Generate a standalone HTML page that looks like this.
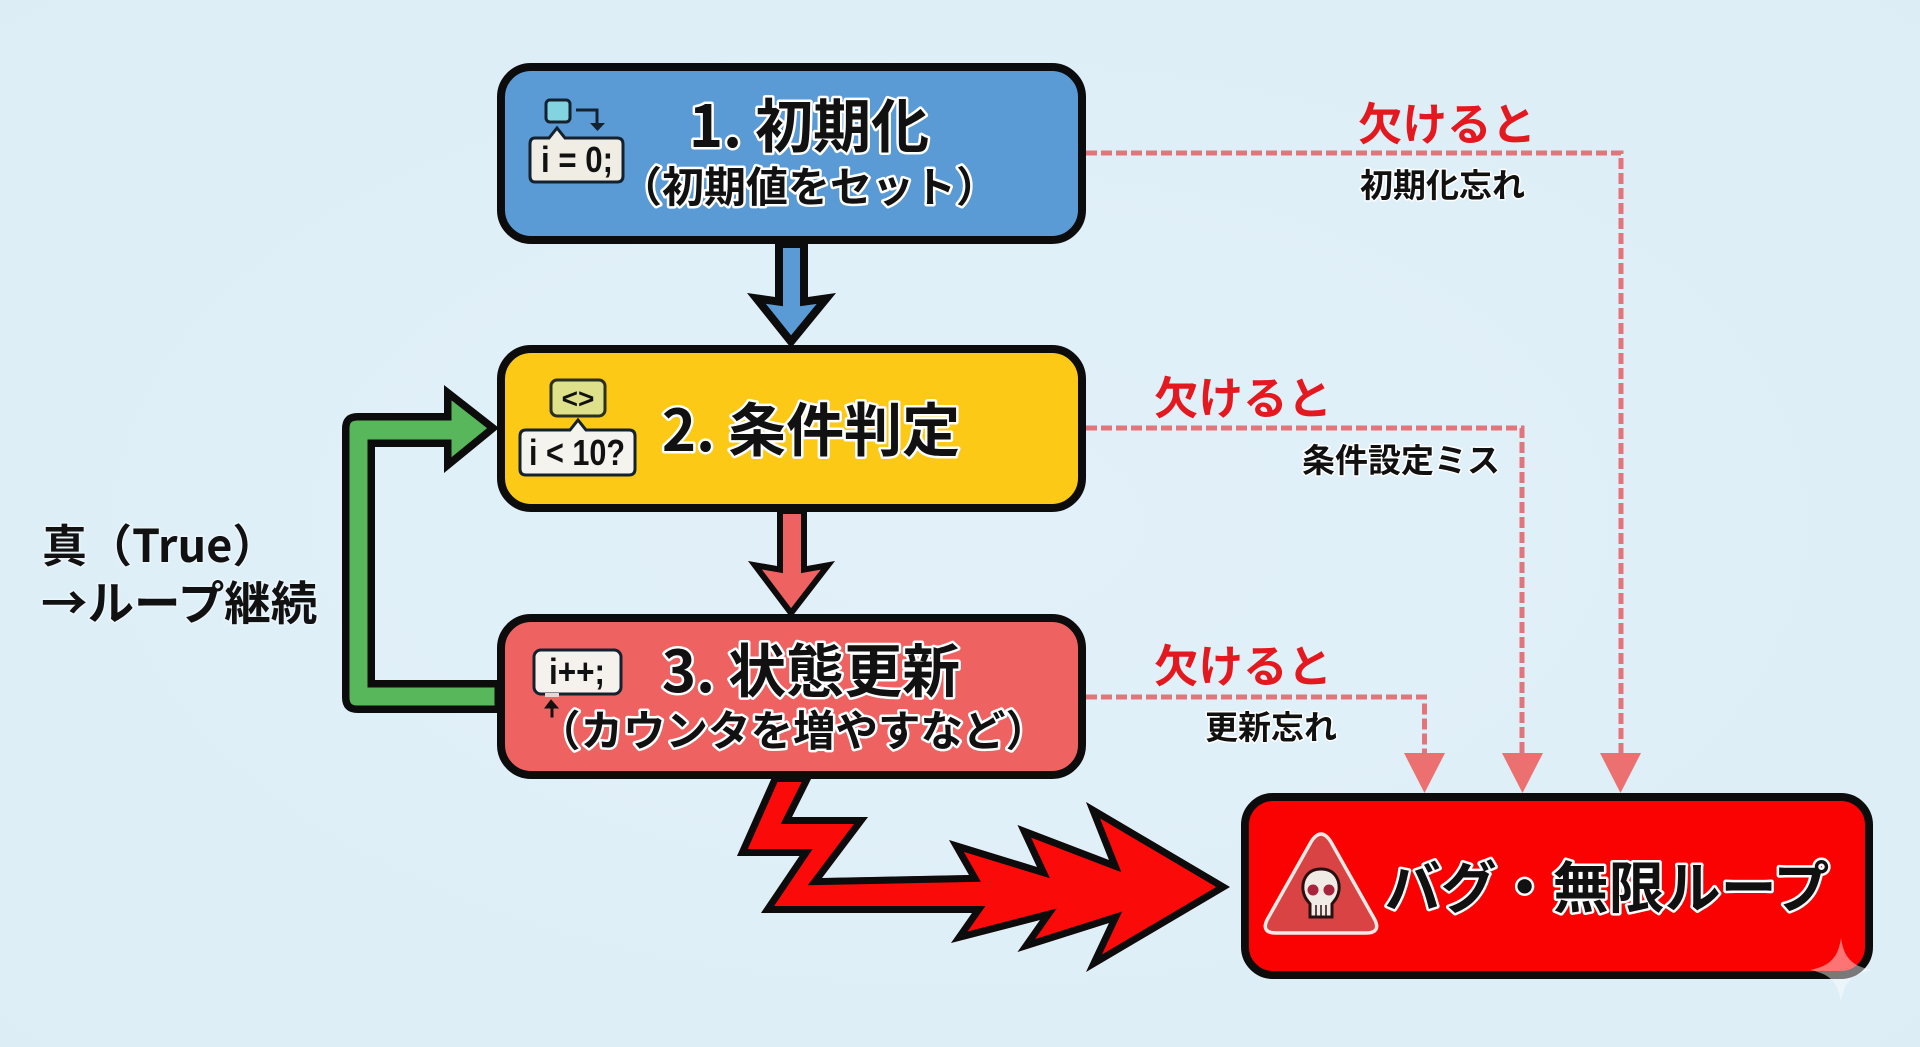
<!DOCTYPE html>
<html lang="ja"><head><meta charset="utf-8"><title>ループの3要素</title>
<style>
html,body{margin:0;padding:0;width:1920px;height:1047px;overflow:hidden;background:#dfeff8}
svg{display:block}
text{font-family:"Noto Sans CJK JP","Liberation Sans",sans-serif;font-weight:700}
.o{fill:#111;stroke:#fff;stroke-width:5;paint-order:stroke;stroke-linejoin:round}
.r{fill:#e3191f;font-size:44.500px}
.b{fill:#111;font-size:33px;stroke:#fff;stroke-width:3;paint-order:stroke;stroke-linejoin:round}
.k{fill:#111;stroke:#eaf5fb;stroke-width:3;paint-order:stroke;stroke-linejoin:round}
.c{fill:#111;font-family:"Liberation Sans",sans-serif;font-weight:700;font-size:36px}
.d{fill:none;stroke:#e3747a;stroke-width:5;stroke-dasharray:11 4}
</style></head><body>
<svg width="1920" height="1047" viewBox="0 0 1920 1047" xmlns="http://www.w3.org/2000/svg">
<defs>
<radialGradient id="bg" cx="50%" cy="50%" r="75%"><stop offset="0" stop-color="#e2f1f9"/><stop offset="1" stop-color="#dcedf6"/></radialGradient>
<path id="pg" d="M502 713H358Q342 713 342 697V429Q342 413 358 413H444V385L499 428L444 473V447H375V680H502Z"/>
<path id="pb" d="M775 240V297L747 293L791 348L836 293L808 297V240Z"/>
<path id="pr" d="M777 508V566L748 561L791 618L835 561L807 566V508Z"/>
<path id="pl" d="M773 775L737 856H799.500L761 913H972L951 943L1040 920L1017.500 952L1109 923L1086 972L1230 887L1086 802L1109 860L1017.500 825L1037 867L949 840L969 875L822 878L868 817H792L813 775Z"/>
<clipPath id="cg"><use href="#pg"/></clipPath>
<clipPath id="cb"><use href="#pb"/></clipPath>
<clipPath id="cr"><use href="#pr"/></clipPath>
<clipPath id="cl"><use href="#pl"/></clipPath>
</defs>
<rect width="1920" height="1047" fill="url(#bg)"/>

<!-- green loop -->
<use href="#pg" fill="#59b75b" stroke="#0c0c0c" stroke-width="15" clip-path="url(#cg)"/>

<!-- down arrows -->
<use href="#pb" fill="#5b9bd5" stroke="#0c0c0c" stroke-width="16" clip-path="url(#cb)"/>
<use href="#pr" fill="#ef6262" stroke="#0c0c0c" stroke-width="12" clip-path="url(#cr)"/>

<!-- lightning -->
<use href="#pl" fill="#fb0a0a" stroke="#0c0c0c" stroke-width="14" clip-path="url(#cl)"/>

<!-- dashed lines -->
<path class="d" d="M1086 153H1621V755"/>
<path class="d" d="M1086 428H1522V755"/>
<path class="d" d="M1086 697H1424.500V755"/>
<path d="M1404 753H1445L1424.500 793Z" fill="#ec7070"/>
<path d="M1502 753H1543L1522.500 793Z" fill="#ec7070"/>
<path d="M1600 753H1641L1620.500 793Z" fill="#ec7070"/>

<!-- boxes -->
<rect x="501" y="67" width="581" height="173" rx="30" fill="#5b9bd5" stroke="#0c0c0c" stroke-width="8"/>
<rect x="501" y="349" width="581" height="159" rx="30" fill="#fdc917" stroke="#0c0c0c" stroke-width="8"/>
<rect x="501" y="618" width="581" height="157" rx="30" fill="#ef6262" stroke="#0c0c0c" stroke-width="8"/>
<rect x="1245" y="797" width="624" height="178" rx="28" fill="#fb0202" stroke="#0c0c0c" stroke-width="8"/>

<!-- icon 1 -->
<rect x="546" y="100" width="24" height="22" rx="4" fill="#82d5e0" stroke="#14212e" stroke-width="3"/>
<path d="M576 110H597V126" fill="none" stroke="#14212e" stroke-width="3"/>
<path d="M590 123H605L597.500 131Z" fill="#14212e"/>
<path d="M535 138H549L557 128L565 138H617Q623 138 623 144V176Q623 182 617 182H535Q530 182 530 176V144Q530 138 535 138Z" fill="#f0ede5" stroke="#14212e" stroke-width="3"/>
<text class="c" x="577" y="172" text-anchor="middle" textLength="72" lengthAdjust="spacingAndGlyphs">i = 0;</text>

<!-- icon 2 -->
<rect x="551" y="380" width="54" height="36" rx="6" fill="#dfe08a" stroke="#2a3020" stroke-width="3"/>
<text x="578" y="408" text-anchor="middle" font-size="28" fill="#111" style="font-family:'Liberation Sans',sans-serif">&lt;&gt;</text>
<path d="M526 430H570L578 420L586 430H629Q635 430 635 436V469Q635 475 629 475H526Q520 475 520 469V436Q520 430 526 430Z" fill="#f5f3ee" stroke="#14212e" stroke-width="3"/>
<text class="c" x="577" y="465" text-anchor="middle" textLength="96" lengthAdjust="spacingAndGlyphs">i &lt; 10?</text>

<!-- icon 3 -->
<rect x="534" y="650" width="87" height="44" rx="7" fill="#f5f2ee" stroke="#14212e" stroke-width="3"/>
<text class="c" x="577" y="684" text-anchor="middle" textLength="56" lengthAdjust="spacingAndGlyphs">i++;</text>
<rect x="545" y="693" width="14" height="4" fill="#e9d5d2"/>
<path d="M551 717V708H545L551 700L558 708H553V717Z" fill="#111" stroke="#111" stroke-width="1"/>

<!-- box text -->
<text class="o" x="809" y="147" text-anchor="middle" font-size="58">1. 初期化</text>
<text class="o" x="809" y="202" text-anchor="middle" font-size="42">（初期値をセット）</text>
<text class="o" x="811" y="451" text-anchor="middle" font-size="58">2. 条件判定</text>
<text class="o" x="811" y="692" text-anchor="middle" font-size="58">3. 状態更新</text>
<text class="o" x="793" y="746" text-anchor="middle" font-size="42.500">（カウンタを増やすなど）</text>

<!-- bug box -->
<path d="M1311 842Q1321 826 1331 842L1375 920Q1381 933 1366 933H1276Q1261 933 1267 920Z" fill="#d94343" stroke="#f5e9e6" stroke-width="3.500"/>
<path d="M1321 869C1307 869 1302 880 1303 890C1304 898 1308 901 1310 904V917H1332V904C1334 901 1338 898 1339 890C1340 880 1335 869 1321 869Z" fill="#f0ebe4" stroke="#2a1010" stroke-width="3"/>
<circle cx="1313" cy="890" r="5.500" fill="#a8243a"/><circle cx="1329" cy="890" r="5.500" fill="#a8243a"/>
<path d="M1316 905V917M1321 905V917M1326 905V917" stroke="#2a1010" stroke-width="1.500"/>
<text class="o" x="1607" y="908" text-anchor="middle" font-size="56">バグ・無限ループ</text>

<!-- red labels -->
<text class="r" x="1358" y="140">欠けると</text>
<text class="r" x="1154" y="414">欠けると</text>
<text class="r" x="1154" y="682">欠けると</text>

<!-- black labels -->
<text class="b" x="1360" y="197">初期化忘れ</text>
<text class="b" x="1302" y="472">条件設定ミス</text>
<text class="b" x="1205" y="739">更新忘れ</text>

<text class="k" x="42" y="562" font-size="45">真（True）</text>
<text class="k" x="41" y="620" font-size="46.500">→ループ継続</text>

<!-- sparkle -->
<path d="M1841 938C1844 958 1852 966 1872 970C1852 974 1844 982 1841 1002C1838 982 1830 974 1810 970C1830 966 1838 958 1841 938Z" fill="#fff" fill-opacity=".45"/>
</svg>
</body></html>
